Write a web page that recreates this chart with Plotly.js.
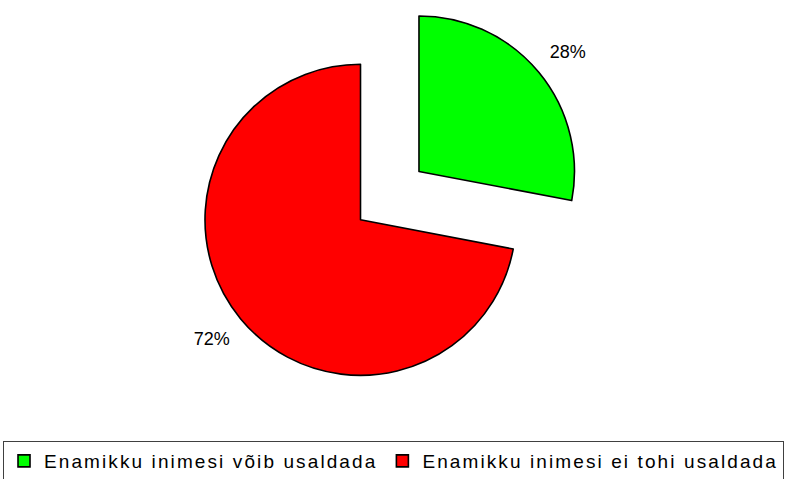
<!DOCTYPE html>
<html>
<head>
<meta charset="utf-8">
<script src="https://cdn.plot.ly/plotly-3.0.1.min.js"></script>
<style>
  html, body { margin: 0; padding: 0; overflow: hidden; background: #fff; }
  #chart { position: absolute; left: 0; top: -30px; width: 860px; height: 540px; }
  .legendtext { letter-spacing: 2.1px; }
</style>
</head>
<body>
<div id="chart"></div>
<script>
const labels = ["Enamikku inimesi võib usaldada", "Enamikku inimesi ei tohi usaldada"];
const values = [28, 72];
const colors = ["#00FF00", "#FF0000"];

const trace = {
  type: "pie",
  labels: labels,
  values: values,
  sort: false,
  direction: "clockwise",
  rotation: 0,
  pull: [0.488, 0],
  marker: { colors: colors, line: { color: "#000000", width: 1.6 } },
  textinfo: "percent",
  texttemplate: ["%{percent:.0%}<br>\u00A0", "\u00A0<br>%{percent:.0%}"],
  textposition: "outside",
  outsidetextfont: { family: "Liberation Sans, Arial, sans-serif", size: 18, color: "#000" },
  hoverinfo: "none",
  domain: { x: [0.15012, 0.68826], y: [0.1089, 0.9659] }
};

const layout = {
  width: 860,
  height: 540,
  margin: { l: 0, r: 0, t: 0, b: 0, pad: 0 },
  paper_bgcolor: "#ffffff",
  plot_bgcolor: "#ffffff",
  showlegend: true,
  legend: {
    orientation: "h",
    x: 0.0035, xanchor: "left",
    y: 0.1278, yanchor: "top",
    bordercolor: "#404040",
    borderwidth: 1,
    bgcolor: "#ffffff",
    font: { family: "Liberation Sans, Arial, sans-serif", size: 19, color: "#000" },
    itemclick: false,
    itemdoubleclick: false
  }
};

Plotly.newPlot("chart", [trace], layout, { staticPlot: true, displayModeBar: false });
</script>
</body>
</html>
